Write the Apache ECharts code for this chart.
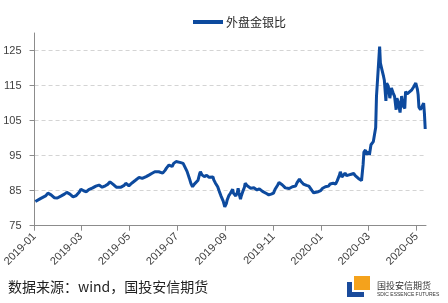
<!DOCTYPE html>
<html>
<head>
<meta charset="utf-8">
<script src="https://cdn.jsdelivr.net/npm/echarts@6/dist/echarts.min.js"></script>
<style>html,body{margin:0;padding:0;background:#fff}#c{width:448px;height:303px}</style>
</head>
<body>
<div id="c"></div>
<script>
const seriesName = '外盘金银比';
const dates = [
'2019-01-02','2019-01-04','2019-01-09','2019-01-15','2019-01-18','2019-01-22','2019-01-26','2019-01-30',
'2019-02-04','2019-02-08','2019-02-11','2019-02-15','2019-02-19','2019-02-23','2019-02-27',
'2019-03-01','2019-03-05','2019-03-08','2019-03-11','2019-03-16','2019-03-20','2019-03-24','2019-03-28',
'2019-04-01','2019-04-04','2019-04-07','2019-04-11','2019-04-15','2019-04-17','2019-04-21','2019-04-25','2019-04-27',
'2019-05-01','2019-05-05','2019-05-09','2019-05-11','2019-05-14','2019-05-18','2019-05-23','2019-05-27','2019-05-30',
'2019-06-03','2019-06-08','2019-06-13','2019-06-16','2019-06-18','2019-06-21','2019-06-25','2019-06-27','2019-06-30',
'2019-07-02','2019-07-06','2019-07-09','2019-07-11','2019-07-14','2019-07-17','2019-07-19','2019-07-21','2019-07-23','2019-07-25','2019-07-28','2019-07-30','2019-07-31',
'2019-08-02','2019-08-05','2019-08-08','2019-08-11','2019-08-13','2019-08-16','2019-08-17','2019-08-19','2019-08-22','2019-08-24','2019-08-26','2019-08-27','2019-08-29','2019-08-31',
'2019-09-02','2019-09-03','2019-09-05','2019-09-07','2019-09-10','2019-09-11','2019-09-14','2019-09-16','2019-09-17','2019-09-18','2019-09-20','2019-09-21','2019-09-23','2019-09-25','2019-09-26','2019-09-29',
'2019-10-03','2019-10-07','2019-10-11','2019-10-14','2019-10-18','2019-10-20','2019-10-23','2019-10-26','2019-10-29',
'2019-11-01','2019-11-03','2019-11-06','2019-11-08','2019-11-10','2019-11-12','2019-11-14','2019-11-16','2019-11-18','2019-11-21','2019-11-25','2019-11-29',
'2019-12-01','2019-12-04','2019-12-06','2019-12-09','2019-12-13','2019-12-16','2019-12-18','2019-12-20','2019-12-22','2019-12-24','2019-12-28','2019-12-31',
'2020-01-02','2020-01-04','2020-01-06','2020-01-08','2020-01-10','2020-01-12','2020-01-16','2020-01-19','2020-01-21','2020-01-23','2020-01-24','2020-01-25','2020-01-26','2020-01-27','2020-01-29','2020-01-31',
'2020-02-02','2020-02-05','2020-02-07','2020-02-08','2020-02-11','2020-02-13','2020-02-15','2020-02-17','2020-02-19','2020-02-21','2020-02-23','2020-02-24','2020-02-26','2020-02-27','2020-02-28',
'2020-03-01','2020-03-02','2020-03-04','2020-03-05','2020-03-07','2020-03-09','2020-03-10','2020-03-11','2020-03-13','2020-03-15','2020-03-16','2020-03-18','2020-03-20','2020-03-21','2020-03-23','2020-03-24','2020-03-26','2020-03-28','2020-03-30',
'2020-04-01','2020-04-03','2020-04-05','2020-04-06','2020-04-08','2020-04-10','2020-04-12','2020-04-14','2020-04-16','2020-04-17','2020-04-19','2020-04-20','2020-04-22','2020-04-25','2020-04-27','2020-04-30',
'2020-05-02','2020-05-03','2020-05-04','2020-05-06','2020-05-07','2020-05-08','2020-05-10','2020-05-11','2020-05-12'
];
const ratio = [
81.9,82.3,82.8,83.5,84.3,83.8,83.0,82.9,
83.5,84.0,84.5,84.0,83.2,83.6,84.6,
85.4,84.9,84.7,85.3,85.8,86.3,86.6,86.0,
86.4,86.8,87.5,86.8,86.0,85.7,86.0,86.5,87.1,
86.4,87.2,87.9,87.6,88.8,88.5,89.0,89.5,89.9,
90.4,90.4,90.0,90.8,91.5,92.3,91.9,92.8,93.3,
92.9,93.0,92.8,92.3,90.5,88.5,87.0,86.1,86.8,87.1,88.0,89.8,90.4,
89.5,89.0,89.4,88.8,89.2,88.9,88.1,87.2,86.1,84.8,83.6,83.3,82.0,80.4,
81.3,82.3,83.5,84.2,85.4,84.3,83.5,84.5,85.7,84.4,82.6,83.5,84.8,86.0,87.1,86.3,
85.7,85.8,85.2,85.5,84.8,84.9,84.2,83.8,84.0,
84.3,85.4,86.5,87.3,87.0,86.7,86.6,85.8,85.3,85.6,86.1,86.3,
87.3,88.3,87.6,86.9,86.5,86.3,85.8,85.0,84.4,84.5,84.7,85.0,
85.6,86.1,86.1,86.6,86.3,86.9,87.1,86.9,87.8,88.1,89.5,90.4,89.7,88.9,89.2,90.0,
89.3,89.5,89.1,89.7,89.9,89.3,89.0,88.5,88.3,87.9,92.5,96.0,96.6,95.3,95.6,
96.1,95.2,98.1,98.6,99.0,98.8,103.0,111.9,119.0,126.1,121.4,119.5,117.6,116.5,110.6,115.7,114.8,111.4,114.3,
113.0,111.9,108.1,111.4,110.0,107.3,112.0,109.1,108.5,113.3,112.6,112.9,113.2,113.8,114.5,115.7,
114.0,112.4,108.8,108.1,108.3,108.6,110.0,107.0,102.6
];
const yTicks = [75, 85, 95, 105, 115, 125];
const yMin = 75, yMax = 130;
const xTickLabels = ['2019-01','2019-03','2019-05','2019-07','2019-09','2019-11','2020-01','2020-03','2020-05'];
const xMin = '2019-01-01', xMax = '2020-05-13';
const sourceText = '数据来源：wind，国投安信期货';

const DAY = 86400000;
function ts(s) {
  const p = s.split('-').map(Number);
  return Date.UTC(p[0], p[1] - 1, p[2] || 1);
}
const base = ts(xMin);
function dayOf(s) { return Math.round((ts(s) - base) / DAY); }
function fmtMonth(v) {
  const d = new Date(base + v * DAY);
  return d.getUTCFullYear() + '-' + String(d.getUTCMonth() + 1).padStart(2, '0');
}
const data = dates.map((d, i) => [dayOf(d), ratio[i]]);
const xTickVals = xTickLabels.map(dayOf);
const lineColor = '#0d4a9e';
const axisColor = '#8c8c8c';
const labelColor = '#404040';
const font = '"Liberation Sans","Noto Sans CJK SC",sans-serif';

const chart = echarts.init(document.getElementById('c'), null, {renderer: 'canvas'});
chart.setOption({
  animation: false,
  backgroundColor: '#fff',
  grid: {left: 33, right: 22, top: 33, bottom: 77.3, containLabel: false},
  legend: {
    data: [seriesName], left: 188, top: 11, icon: 'rect', itemWidth: 30, itemHeight: 4, itemGap: 4,
    textStyle: {fontSize: 12, color: '#262626', fontFamily: '"Noto Sans CJK SC",sans-serif', padding: [0,0,0,-2]}
  },
  xAxis: {
    type: 'value', min: 0, max: dayOf(xMax),
    axisLine: {show: true, onZero: false, lineStyle: {color: axisColor, width: 1}},
    axisTick: {show: true, length: 5, lineStyle: {color: axisColor}, customValues: xTickVals},
    axisLabel: {customValues: xTickVals, formatter: fmtMonth, rotate: 45, margin: 9,
      fontSize: 11, color: labelColor, fontFamily: font},
    splitLine: {show: false}
  },
  yAxis: {
    type: 'value', min: yMin, max: yMax,
    axisLine: {show: true, onZero: false, lineStyle: {color: axisColor, width: 1}},
    axisTick: {show: true, length: 5, lineStyle: {color: axisColor}, customValues: yTicks},
    axisLabel: {customValues: yTicks, margin: 13, fontSize: 11, color: labelColor, fontFamily: font},
    splitLine: {show: true, lineStyle: {color: '#d4d4d4', type: [4, 3], width: 1}}
  },
  series: [{
    name: seriesName, type: 'line', data: data, symbol: 'none', showSymbol: false,
    lineStyle: {color: lineColor, width: 3}, itemStyle: {color: lineColor}
  }],
  graphic: [
    {type: 'text', left: 8, top: 280, style: {text: sourceText, fontSize: 14, fill: '#222', fontFamily: '"Noto Sans CJK SC",sans-serif'}},
    {type: 'rect', shape: {x: 354, y: 276, width: 16, height: 14}, style: {fill: '#f4a21c'}},
    {type: 'polygon', shape: {points: [[347,282],[352,282],[352,292],[364,292],[364,297],[347,297]]}, style: {fill: '#1a4b9c'}},
    {type: 'text', left: 377, top: 281, style: {text: '国投安信期货', fontSize: 9, fill: '#333', fontFamily: '"Noto Sans CJK SC",sans-serif'}},
    {type: 'text', left: 377, top: 292, style: {text: 'SDIC ESSENCE FUTURES', fontSize: 5, fill: '#333', fontFamily: '"Liberation Sans",sans-serif'}}
  ]
});
</script>
</body>
</html>
